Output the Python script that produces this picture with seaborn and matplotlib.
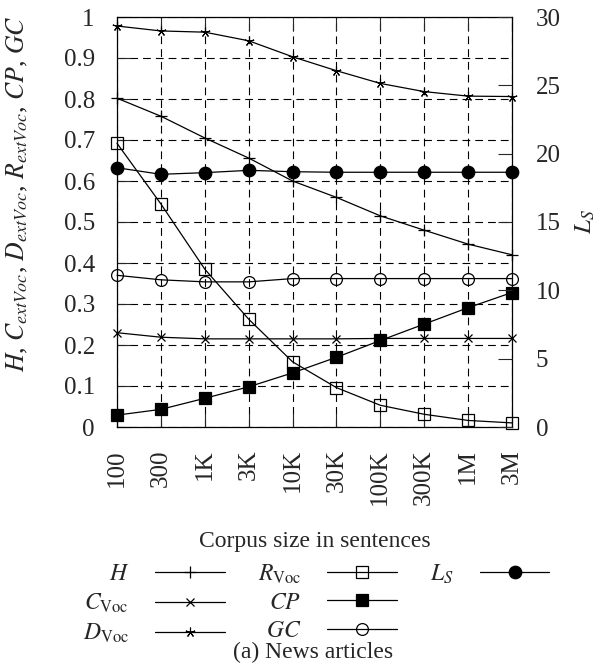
import numpy as np
import pandas as pd
import matplotlib
matplotlib.use("Agg")
import matplotlib.pyplot as plt
import seaborn as sns
from matplotlib.lines import Line2D

# ---- data ----
sizes = ['100', '300', '1K', '3K', '10K', '30K', '100K', '300K', '1M', '3M']
H = [0.802, 0.758, 0.705, 0.656, 0.600, 0.560, 0.515, 0.480, 0.446, 0.420]
C_voc = [0.230, 0.219, 0.215, 0.215, 0.215, 0.215, 0.216, 0.216, 0.216, 0.216]
D_voc = [0.978, 0.966, 0.963, 0.942, 0.903, 0.869, 0.838, 0.818, 0.807, 0.806]
R_voc = [0.692, 0.544, 0.385, 0.263, 0.159, 0.096, 0.053, 0.031, 0.016, 0.010]
CP = [0.029, 0.043, 0.070, 0.098, 0.132, 0.170, 0.211, 0.251, 0.291, 0.328]
GC = [0.370, 0.359, 0.354, 0.354, 0.362, 0.362, 0.362, 0.362, 0.362, 0.362]
L_S = [18.97, 18.49, 18.61, 18.78, 18.68, 18.64, 18.64, 18.64, 18.64, 18.64]

left_ticks = [0, 0.1, 0.2, 0.3, 0.4, 0.5, 0.6, 0.7, 0.8, 0.9, 1]
left_ticklabels = ['0', '0.1', '0.2', '0.3', '0.4', '0.5', '0.6', '0.7', '0.8', '0.9', '1']
right_ticks = [0, 5, 10, 15, 20, 25, 30]

sns.set_theme(style="white")
plt.rcParams['font.family'] = ['Liberation Serif', 'DejaVu Serif']
plt.rcParams['mathtext.fontset'] = 'stix'
plt.rcParams['axes.edgecolor'] = 'black'
plt.rcParams['axes.linewidth'] = 0.9

FS_T = 18   # tick labels
FS = 17     # other text
pos = np.arange(len(sizes))

fig = plt.figure(figsize=(6.02, 6.70), dpi=100)
ax = fig.add_axes([117/602, 1-427/670, (512-117)/602, (427-17)/670])
ax2 = ax.twinx()

df = pd.DataFrame({'pos': pos, 'H': H, 'C': C_voc, 'D': D_voc, 'R': R_voc,
                   'CP': CP, 'GC': GC, 'LS': L_S})

styles = [
    ('H', r'$H$', ax, dict(marker='+', markersize=9, mew=0.9, fillstyle='full')),
    ('C', r'$C_{\mathrm{Voc}}$', ax, dict(marker='x', markersize=5.5, mew=0.9, fillstyle='full')),
    ('D', r'$D_{\mathrm{Voc}}$', ax, dict(marker=(5, 2, 0), markersize=7, mew=0.8, fillstyle='full')),
    ('R', r'$R_{\mathrm{Voc}}$', ax, dict(marker='s', markersize=8.5, mew=0.9, fillstyle='none')),
    ('CP', r'$CP$', ax, dict(marker='s', markersize=8.5, mew=0.9, fillstyle='full')),
    ('GC', r'$GC$', ax, dict(marker='o', markersize=8.5, mew=0.9, fillstyle='none')),
    ('LS', r'$L_S$', ax2, dict(marker='o', markersize=9, mew=0.9, fillstyle='full')),
]

handles = {}
for col, lab, a, kw in styles:
    sns.lineplot(data=df, x='pos', y=col, ax=a, color='black', linewidth=0.9,
                 markeredgecolor='black',
                 markerfacecolor='black' if kw['fillstyle'] == 'full' else 'none',
                 clip_on=False, zorder=5, **kw)
    handles[lab] = a.lines[-1]

ax.set_xlim(pos[0], pos[-1])
ax.set_ylim(0, 1)
ax2.set_ylim(0, 30)
ax.set_xticks(pos)
ax.set_xticklabels(sizes, rotation=90, fontsize=FS_T)
ax.set_yticks(left_ticks)
ax.set_yticklabels(left_ticklabels, fontsize=FS_T)
ax2.set_yticks(right_ticks)
ax2.set_yticklabels([str(t) for t in right_ticks], fontsize=FS_T)

ax.grid(True, color='black', linestyle=(0, (7, 4.5)), linewidth=0.8)
ax.tick_params(axis='x', direction='in', length=10, width=0.8, top=True, bottom=True, pad=16)
ax.tick_params(axis='y', direction='in', length=10, width=0.8, left=True, right=False, pad=16)
ax2.tick_params(axis='y', direction='in', length=10, width=0.8, right=True, pad=17)
for s in ax2.spines.values():
    s.set_visible(False)
for s in ax.spines.values():
    s.set_color('black')
    s.set_linewidth(0.9)
ax.set_axisbelow(True)

ax.set_xlabel('Corpus size in sentences', fontsize=FS)
ax.xaxis.set_label_coords(0.5, -0.253)
ax.set_ylabel(r'$H$, $C_{extVoc}$, $D_{extVoc}$, $R_{extVoc}$, $CP$, $GC$', fontsize=18.5)
ax.yaxis.set_label_coords(-0.22, 0.57)
ax2.set_ylabel(r'$L_S$', fontsize=18)
ax2.yaxis.set_label_coords(1.155, 0.5)

blank = Line2D([], [], linestyle='none')
order = [r'$H$', r'$C_{\mathrm{Voc}}$', r'$D_{\mathrm{Voc}}$',
         r'$R_{\mathrm{Voc}}$', r'$CP$', r'$GC$', r'$L_S$']
hl = [handles[k] for k in order] + [blank, blank]
ll = order + ['', '']
fig.legend(hl, ll, loc='upper center', bbox_to_anchor=(0.525, 1-541/670), ncol=3,
           frameon=False, markerfirst=False, fontsize=FS, handlelength=2.95,
           handletextpad=1.1, columnspacing=1.4, labelspacing=0.28)

fig.text(0.52, 1-652/670, '(a) News articles', ha='center', va='center', fontsize=FS)

fig.savefig('out.png', dpi=100)
